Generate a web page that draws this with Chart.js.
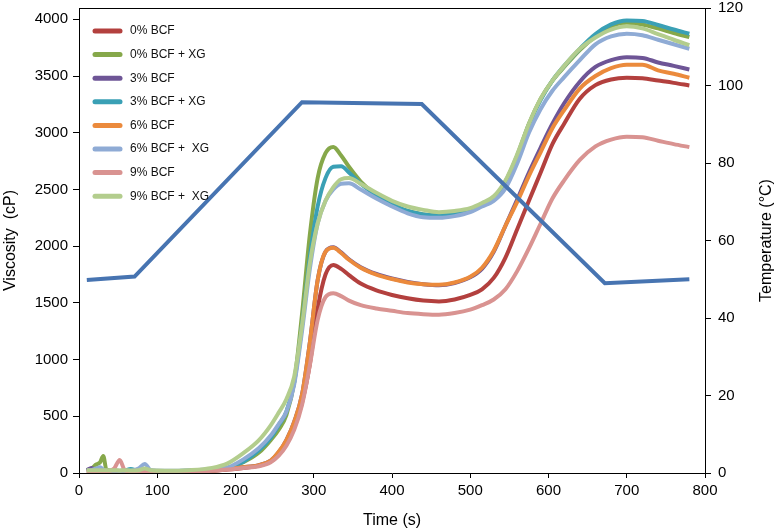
<!DOCTYPE html>
<html>
<head>
<meta charset="utf-8">
<script src="https://cdn.jsdelivr.net/npm/chart.js@4.4.0/dist/chart.umd.min.js"></script>
<style>
    html, body { margin: 0; padding: 0; background: #fff; }
    #wrap { width: 777px; height: 531px; }
</style>
</head>
<body>
<div id="wrap"><canvas id="rvaChart" width="777" height="531"></canvas></div>
<script>
// time grid (s), shared by all viscosity curves
const time = [10, 16, 22, 27, 31, 35, 45, 52, 58, 66,
    76, 84, 92, 110, 140, 170, 190, 210, 230, 245,
    255, 265, 275, 285, 295, 305, 315, 325, 335, 345,
    360, 380, 400, 420, 440, 460, 480, 500, 515, 530,
    545, 560, 575, 590, 605, 620, 640, 660, 680, 700,
    720, 740, 760, 780];

// viscosity (cP)
const bcf0 = [10, 12, 10, 12, 10, 12, 10, 12, 10, 12,
    10, 12, 10, 12, 15, 20, 30, 45, 65, 100,
    160, 260, 410, 620, 960, 1450, 1750, 1835, 1800, 1745,
    1670, 1610, 1570, 1540, 1520, 1513, 1530, 1570, 1620, 1720,
    1900, 2150, 2400, 2650, 2900, 3080, 3300, 3420, 3470, 3485,
    3480, 3460, 3440, 3417];
const bcf0xg = [20, 40, 75, 95, 150, 30, 20, 18, 20, 18,
    20, 18, 20, 18, 20, 30, 45, 95, 180, 290,
    380, 510, 800, 1400, 2100, 2600, 2820, 2875, 2800, 2700,
    2570, 2450, 2370, 2310, 2280, 2270, 2290, 2320, 2360, 2420,
    2570, 2800, 3080, 3300, 3460, 3580, 3730, 3850, 3940, 3970,
    3955, 3920, 3880, 3844];
const bcf3 = [25, 45, 20, 15, 15, 12, 12, 12, 12, 12,
    12, 12, 12, 12, 15, 22, 35, 50, 70, 110,
    180, 290, 450, 690, 1150, 1700, 1950, 1990, 1945, 1885,
    1815, 1755, 1715, 1685, 1665, 1655, 1675, 1725, 1800, 1950,
    2180, 2410, 2650, 2870, 3080, 3260, 3450, 3580, 3640, 3665,
    3660, 3620, 3590, 3558];
const bcf3xg = [20, 20, 25, 20, 20, 18, 18, 18, 20, 35,
    18, 20, 18, 18, 20, 30, 45, 100, 200, 310,
    420, 540, 800, 1300, 1900, 2350, 2600, 2700, 2705, 2650,
    2550, 2450, 2370, 2310, 2280, 2270, 2290, 2320, 2360, 2420,
    2560, 2790, 3070, 3290, 3460, 3590, 3740, 3870, 3955, 3990,
    3985, 3950, 3910, 3873];
const bcf6 = [10, 12, 10, 12, 10, 12, 10, 12, 10, 12,
    10, 12, 10, 12, 15, 22, 35, 50, 70, 110,
    185, 290, 450, 690, 1150, 1700, 1950, 1985, 1940, 1880,
    1810, 1750, 1710, 1680, 1665, 1660, 1680, 1730, 1810, 1960,
    2180, 2390, 2620, 2830, 3040, 3200, 3390, 3500, 3570, 3600,
    3600, 3550, 3520, 3485];
const bcf6xg = [20, 25, 40, 50, 30, 20, 20, 20, 20, 20,
    40, 80, 25, 20, 22, 35, 50, 120, 220, 330,
    430, 540, 780, 1250, 1800, 2200, 2400, 2500, 2550, 2555,
    2500, 2420, 2350, 2290, 2255, 2250, 2265, 2300, 2350, 2400,
    2510, 2730, 3000, 3210, 3370, 3490, 3640, 3780, 3850, 3873,
    3860, 3820, 3780, 3741];
const bcf9 = [10, 12, 10, 12, 10, 12, 40, 115, 30, 12,
    10, 12, 10, 12, 15, 20, 30, 45, 60, 95,
    150, 240, 380, 600, 950, 1350, 1550, 1585, 1560, 1520,
    1480, 1450, 1430, 1410, 1400, 1395, 1410, 1440, 1480, 1530,
    1620, 1780, 1980, 2200, 2420, 2580, 2760, 2880, 2940, 2965,
    2960, 2930, 2900, 2873];
const bcf9xg = [25, 25, 25, 25, 25, 25, 25, 22, 25, 22,
    25, 40, 25, 20, 25, 45, 85, 175, 290, 420,
    530, 650, 850, 1300, 1850, 2200, 2400, 2520, 2590, 2600,
    2550, 2470, 2400, 2350, 2320, 2300, 2310, 2335, 2380, 2440,
    2580, 2810, 3080, 3300, 3460, 3590, 3740, 3840, 3910, 3940,
    3920, 3870, 3820, 3773];

// temperature profile (°C)
const tempTime = [10, 71, 285, 438, 672, 780];
const tempValues = [49.8, 50.7, 95.7, 95.2, 49, 50];

const viscTicks = [0, 500, 1000, 1500, 2000, 2500, 3000, 3500, 4000];

const seriesLabels = ['0% BCF', '0% BCF + XG', '3% BCF', '3% BCF + XG',
    '6% BCF', '6% BCF +  XG', '9% BCF', '9% BCF +  XG'];
const seriesValues = [bcf0, bcf0xg, bcf3, bcf3xg, bcf6, bcf6xg, bcf9, bcf9xg];
const seriesColors = ['#b3403e', '#86a84a', '#6e5596', '#3aa0b5',
    '#eb8a3c', '#8fabd5', '#d99391', '#b3cd8d'];

const FONT = '"Liberation Sans", Arial, Helvetica, sans-serif';

const datasets = [{
    label: 'Temperature',
    data: tempTime.map((t, i) => ({ x: t, y: tempValues[i] })),
    yAxisID: 'y2',
    borderColor: '#4774b1',
    borderWidth: 4,
    tension: 0,
    order: 0
}];
for (let i = 0; i < seriesLabels.length; i++) {
    datasets.push({
        label: seriesLabels[i],
        data: time.map((t, j) => ({ x: t, y: seriesValues[i][j] })),
        yAxisID: 'y',
        borderColor: seriesColors[i],
        borderWidth: 4,
        cubicInterpolationMode: 'monotone',
        order: 8 - i
    });
}

// legend sits inside the plot, top left; also top frame + right title
const insideLegend = {
    id: 'insideLegend',
    afterDatasetsDraw(chart) {
        const ctx = chart.ctx;
        const area = chart.chartArea;
        ctx.save();
        ctx.strokeStyle = '#000';
        ctx.lineWidth = 1;
        ctx.beginPath();
        ctx.moveTo(area.left, area.top + 0.5);
        ctx.lineTo(area.right, area.top + 0.5);
        ctx.stroke();

        ctx.font = '12px ' + FONT;
        ctx.textBaseline = 'middle';
        let row = 0;
        chart.data.datasets.forEach(ds => {
            if (ds.yAxisID !== 'y') return;
            const y = area.top + 23 + row * 23.6;
            ctx.strokeStyle = ds.borderColor;
            ctx.lineWidth = 5;
            ctx.lineCap = 'round';
            ctx.beginPath();
            ctx.moveTo(area.left + 16, y);
            ctx.lineTo(area.left + 41, y);
            ctx.stroke();
            ctx.fillStyle = '#111';
            ctx.fillText(ds.label, area.left + 51, y);
            row++;
        });

        // right axis title reads bottom to top, like the left one
        ctx.translate(chart.width - 10, (area.top + area.bottom) / 2);
        ctx.rotate(-Math.PI / 2);
        ctx.font = '16px ' + FONT;
        ctx.fillStyle = '#000';
        ctx.textAlign = 'center';
        ctx.fillText('Temperature (°C)', 0, 0);
        ctx.restore();
    }
};

new Chart(document.getElementById('rvaChart'), {
    type: 'line',
    data: { datasets: datasets },
    plugins: [insideLegend],
    options: {
        responsive: false,
        animation: false,
        devicePixelRatio: 1,
        layout: { padding: { top: 8, left: 0, right: 0, bottom: 0 } },
        elements: { point: { radius: 0 } },
        plugins: {
            legend: { display: false },
            tooltip: { enabled: false }
        },
        scales: {
            x: {
                type: 'linear',
                min: 0,
                max: 800,
                ticks: { stepSize: 100, color: '#000', font: { size: 15, family: FONT }, padding: 4, maxRotation: 0,
                    callback: v => String(v) },
                grid: { drawOnChartArea: false, tickLength: 5, color: '#000' },
                border: { color: '#000' },
                title: { display: true, text: 'Time (s)', color: '#000', font: { size: 16, family: FONT }, padding: { top: 0, bottom: 1 } },
                afterFit(s) { s.height = 58; s.paddingLeft = 0; s.paddingRight = 0; }
            },
            y: {
                position: 'left',
                min: 0,
                max: 4100,
                ticks: { color: '#000', font: { size: 15, family: FONT }, padding: 5, callback: v => String(v) },
                afterBuildTicks(s) { s.ticks = viscTicks.map(v => ({ value: v })); },
                grid: { drawOnChartArea: false, tickLength: 6, color: '#000' },
                border: { color: '#000' },
                title: { display: true, text: 'Viscosity  (cP)', color: '#000', font: { size: 16, family: FONT }, padding: { top: 1, bottom: 0 } },
                afterFit(s) { s.width = 79; s.paddingTop = 0; s.paddingBottom = 0; }
            },
            y2: {
                position: 'right',
                min: 0,
                max: 120,
                ticks: { stepSize: 20, color: '#000', font: { size: 15, family: FONT }, padding: 7 },
                grid: { drawOnChartArea: false, tickLength: 6, color: '#000' },
                border: { color: '#000' },
                afterFit(s) { s.width = 72; s.paddingTop = 0; s.paddingBottom = 0; }
            }
        }
    }
});
</script>
</body>
</html>
